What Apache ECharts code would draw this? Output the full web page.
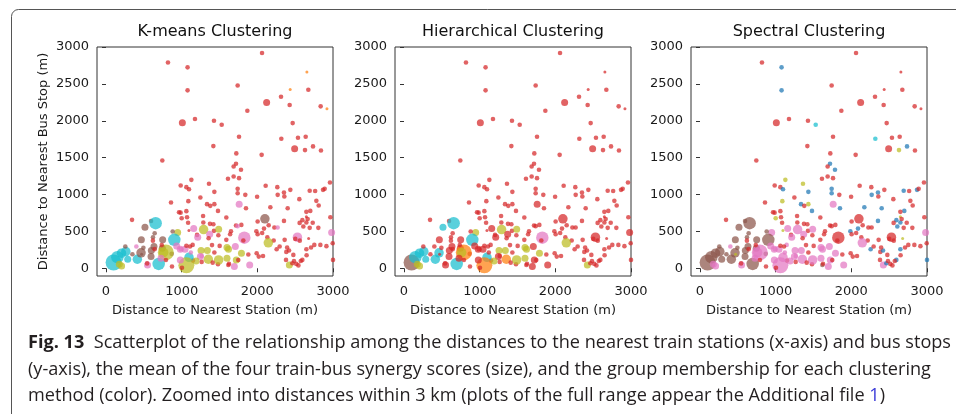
<!DOCTYPE html>
<html><head><meta charset="utf-8">
<script src="https://cdn.jsdelivr.net/npm/echarts@6/dist/echarts.min.js"></script>
<style>html,body{margin:0;padding:0;background:#fff}#c{width:956px;height:414px}</style>
</head><body><div id="c"></div>
<script>
// Distance to nearest train station (m)
const stationDist = [
 819,2062,1078,1078,1740,2655,2434,2674,2313,2123,
 2427,2837,2920,1868,1009,1176,1427,1529,2467,1758,
 2317,2537,2639,1419,2736,2493,2630,2841,744,1722,
 2057,1718,1687,1784,1612,1687,1758,2960,987,1062,
 1128,1097,1361,1740,1740,1247,1432,1432,1480,1335,
 1088,859,965,1062,1000,1071,1590,1841,1850,2110,
 2264,2269,2172,2352,2357,2436,2401,2352,2555,2692,
 2868,2890,2780,2811,2700,2648,2965,2595,2648,2648,
 2559,2608,2692,2806,2982,2678,2530,2502,2100,2004,
 2088,2150,2225,2132,2216,2361,2145,1987,2004,1828,
 1815,1789,1718,1652,1590,1485,1427,1374,1286,1290,
 1419,1370,1489,1159,1203,1145,1110,947,982,1044,
 1256,1339,1502,1599,1709,1599,1696,1899,1790,1881,
 1991,2075,2255,2295,2383,2419,2379,2423,2463,2515,
 2476,2595,2648,2753,2833,2996,3000,1480,1617,1489,
 1352,1264,1150,1097,1062,1247,872,982,100,150,
 205,176,262,255,414,463,595,696,515,467,
 595,656,643,621,749,881,903,868,744,634,
 599,344,401,790,762,727,934,1760,1740,2268,
 1212,549,1619,1722,1190,620,737,643,494,349,
 543,792,1004,1265,1410,1432,1401,1121,1062,990,
 1748,1626,2019,2394,2484,2574,2651,2710,2543,2913,
 2561,2732,2665,2064,1640,1356,1085,1283,1378,986,
 2764,1997,1096,470,287,206
];
// Distance to nearest bus stop (m)
const busStopDist = [
 2790,2918,2724,2412,2478,2660,2425,2420,2326,2249,
 2213,2195,2163,2136,1973,2023,2000,1946,1968,1783,
 1756,1769,1783,1656,1652,1620,1602,1597,1462,1557,
 1538,1416,1380,1335,1213,1244,1222,1163,1122,1100,
 1199,1072,1145,1077,1018,959,1036,869,778,869,
 910,891,760,774,679,692,688,995,814,1118,
 1100,995,828,1027,973,1063,814,642,937,1050,
 1063,1077,914,851,778,765,692,652,697,620,
 615,566,548,548,484,403,421,398,670,633,
 538,584,552,421,376,385,345,502,462,415,
 376,588,579,502,385,448,507,602,620,525,
 597,462,529,538,452,317,294,484,258,258,
 240,240,303,281,294,136,23,45,205,186,
 204,167,258,294,222,240,113,45,68,59,
 181,113,258,317,317,339,113,54,45,113,
 122,86,104,149,40,158,23,113,78,150,
 204,54,226,295,122,210,158,59,557,385,
 640,611,475,421,385,498,385,195,271,294,
 240,656,294,215,213,136,303,869,571,552,
 420,44,259,112,99,374,314,259,277,190,
 66,112,7,167,76,213,314,213,305,259,
 112,62,158,282,99,99,177,282,39,300,
 374,617,667,479,461,406,617,708,846,754,
 1047,970,511,190,121,30
];
// Mean train-bus synergy score (ordinal level, 1 = lowest)
const synergyLevel = [
 2,2,2,2,2,1,1,2,2,3, 2,2,1,2,3,2,2,2,2,2, 2,2,2,2,2,3,2,2,2,2,
 2,2,2,2,2,2,2,2,2,2, 2,2,2,2,2,2,2,2,2,2, 2,2,2,2,2,2,2,2,2,2,
 2,2,2,2,2,2,2,2,2,2, 2,2,2,2,2,2,2,2,1,2, 2,2,2,2,3,1,4,2,4,2,
 2,2,2,2,2,2,4,2,2,5, 2,2,2,2,2,2,2,2,2,4, 2,3,3,3,2,2,2,3,3,3,
 3,3,2,3,3,3,3,3,3,2, 2,2,2,2,2,2,2,3,2,2, 2,2,2,2,2,2,2,2,2,4,
 4,2,2,4,6,3,2,3,6,5, 4,3,4,2,4,4,3,5,3,3, 2,5,2,2,3,2,5,2,3,3,
 3,2,2,6,4,3,3,3,2,2, 3,3,3,3,3,2,2,2,2,2, 2,2,2,2,2,2,2,2,2,2,
 2,2,2,2,2,2,2,2,2,2, 2,2,2,2,2,2,2,2,2,2, 2,2,1,1,3,3
];
// Cluster membership (r red, c cyan, b brown, o olive, p pink, g orange, u blue)
const kmeansGroup = [
 'rrrrrggrrr','rrgrrrrrrr','rrrrrrrrrr','rrrrrrrrrr','rrrrrrrrrr','rrrrrrrrrr',
 'rrrrrrrrrr','rrrrrrrrrr','rrrrprprbr','rrrrrrorrp','rrrrrrrrro','rpoprrropp',
 'ooropoppor','rrrrrrrorr','rrrrrrrrro','orrcoprpcc','cocbcbbcbb','bcbbbbcbbb',
 'brpooppppp','ppooorrrbb','rrrprrrprp','rrrrrrrrrr','rrrrrrrrrr','rrrbco'
].join('').split('');
const hierGroup = [
 'rrrrrrrrrr','rrrrrrrrrr','rrrrrrrrrr','rrrrrrrrrr','rrrrrrrrrr','rrrrrrrrrr',
 'rrrrrrrrrr','rrrrrrrrrr','rrrrrrrrrr','rrrrrrorrp','rrrrrrrrro','rrorrrrorr',
 'oorororror','rrrrrrrorr','rrrrrrrrro','grrcgrrrbc','cocrccrccr','rcrrrrcrrr',
 'rrrgorrrrr','rrororrrrr','rrrrrrrrrr','rrrrrrrrrr','rrrrrrrrrr','rrrrco'
].join('').split('');
const spectralGroup = [
 'rruurrrrrr','rrrrrrrcrr','crrrurorrr','rururrrrrr','ououuruouu','orrrorrrur',
 'ruuurruuru','urrrurruou','rurrporrrr','urrrrrpurr','rrrrrrrrrp','rppprprppp',
 'pprppppppr','rrurrurpur','ruurrrurbp','prrppprpbb','bpbbbbbbbb','bbbbbbbbbb',
 'brpppppprr','ppppprrrbb','rrrprrrprp','rrrrrrrrrr','rrrrrrrrrr','rroobp'
].join('').split('');
const panelTitles = ['K-means Clustering', 'Hierarchical Clustering', 'Spectral Clustering'];
const xTicks = [0, 1000, 2000, 3000];
const yTicks = [0, 500, 1000, 1500, 2000, 2500, 3000];
const captionLines = [
 '{b|Fig. 13}  Scatterplot of the relationship among the distances to the nearest train stations (x-axis) and bus stops',
 '(y-axis), the mean of the four train-bus synergy scores (size), and the group membership for each clustering',
 'method (color). Zoomed into distances within 3 km (plots of the full range appear the Additional file {l|1})'
];

const n = stationDist.length;
[busStopDist, synergyLevel, kmeansGroup, hierGroup, spectralGroup].forEach((a, k) => {
  if (a.length !== n) throw new Error('length mismatch ' + k + ': ' + a.length + ' vs ' + n);
});

const palette = { r:'#d62728', c:'#17becf', b:'#8c564b', o:'#bcbd22', p:'#e377c2', g:'#ff7f0e', u:'#1f77b4' };
const sizePx = [0, 3, 4.6, 7, 9.5, 12.5, 16];
const groups = [kmeansGroup, hierGroup, spectralGroup];
const gridLefts = [97, 395, 691];
const gridW = 236, gridTop = 47, gridH = 229;
const tickFont = 'DejaVu Sans';
const plain = v => String(v);

const grids = [], xAxes = [], yAxes = [], series = [], titles = [];
gridLefts.forEach((L, i) => {
  grids.push({ left: L, top: gridTop, width: gridW, height: gridH, show: true,
    borderColor: '#333', borderWidth: 1, backgroundColor: 'transparent', containLabel: false });
  xAxes.push({ type: 'value', gridIndex: i, min: -119, max: 3000,
    name: 'Distance to Nearest Station (m)', nameLocation: 'middle', nameGap: 28,
    nameTextStyle: { fontFamily: tickFont, fontSize: 13, color: '#1a1a1a' },
    axisLine: { show: false },
    axisTick: { show: true, length: 4, lineStyle: { color: '#333' }, customValues: xTicks },
    axisLabel: { fontFamily: tickFont, fontSize: 13, color: '#1a1a1a', margin: 9, customValues: xTicks, formatter: plain },
    splitLine: { show: false } });
  yAxes.push({ type: 'value', gridIndex: i, min: -105, max: 3000,
    name: i === 0 ? 'Distance to Nearest Bus Stop (m)' : '', nameLocation: 'middle', nameGap: 47,
    nameTextStyle: { fontFamily: tickFont, fontSize: 13, color: '#1a1a1a' },
    axisLine: { show: false },
    axisTick: { show: true, length: 4, lineStyle: { color: '#333' }, customValues: yTicks },
    axisLabel: { fontFamily: tickFont, fontSize: 13, color: '#1a1a1a', margin: 8, customValues: yTicks, formatter: plain },
    splitLine: { show: false } });
  const g = groups[i];
  series.push({ type: 'scatter', xAxisIndex: i, yAxisIndex: i, silent: true,
    data: stationDist.map((x, k) => ({ value: [x, busStopDist[k]],
      symbolSize: sizePx[synergyLevel[k]],
      itemStyle: { color: palette[g[k]], opacity: 0.72 } })) });
  titles.push({ text: panelTitles[i], left: L + gridW / 2, top: 24, textAlign: 'center', padding: 0,
    textStyle: { fontFamily: tickFont, fontSize: 16, fontWeight: 'normal', color: '#111' } });
});

// caption scale (condensed face)
const cv = document.createElement('canvas').getContext('2d');
cv.font = 'bold 18px "Open Sans"';
let w1 = cv.measureText('Fig. 13').width;
cv.font = '18px "Open Sans"';
w1 += cv.measureText('  Scatterplot of the relationship among the distances to the nearest train stations (x-axis) and bus stops').width;
const capScale = 923 / w1;
const capY = [343, 369.5, 395.5];

const graphics = [{ type: 'rect', silent: true, shape: { x: 11.5, y: 9.5, width: 1000, height: 600, r: [7, 0, 0, 0] },
  style: { fill: 'none', stroke: '#555', lineWidth: 1 } }];
captionLines.forEach((t, i) => {
  graphics.push({ type: 'text', x: 28, y: capY[i], scaleX: capScale, originX: 0, silent: true,
    style: { text: t, fontFamily: 'Open Sans', fontSize: 18, fill: '#231f20', verticalAlign: 'middle', align: 'left',
      rich: { b: { fontFamily: 'Open Sans', fontSize: 18, fontWeight: 'bold', fill: '#231f20' },
              l: { fontFamily: 'Open Sans', fontSize: 18, fill: '#3a3ad8' } } } });
});

const chart = echarts.init(document.getElementById('c'), null, { renderer: 'canvas' });
chart.setOption({ animation: false, backgroundColor: '#fff', title: titles, grid: grids,
  xAxis: xAxes, yAxis: yAxes, series: series, graphic: graphics });
</script></body></html>
